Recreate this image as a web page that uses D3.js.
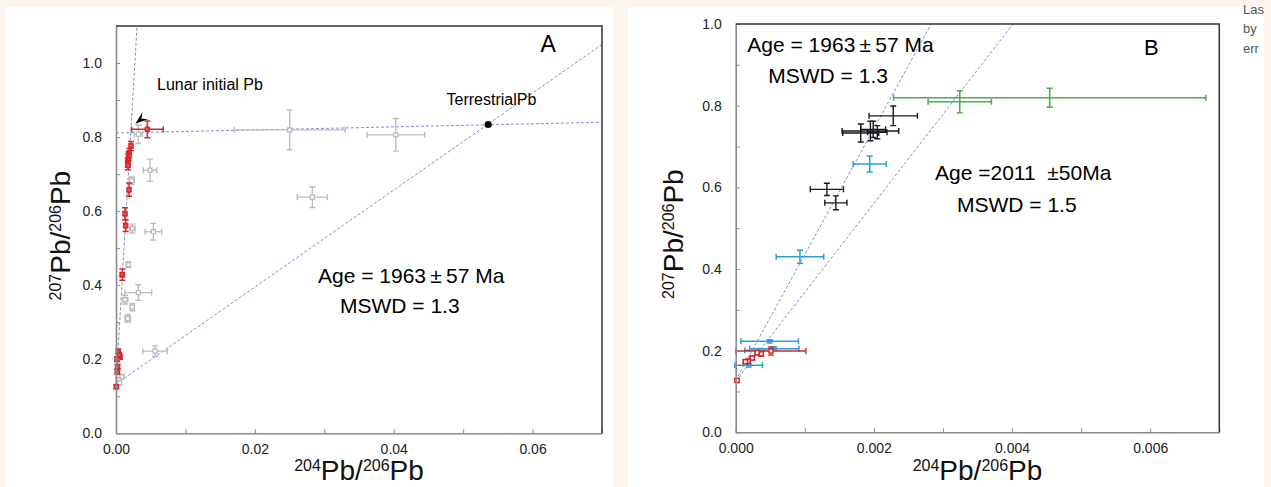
<!DOCTYPE html>
<html><head><meta charset="utf-8">
<script src="https://cdn.jsdelivr.net/npm/d3@7"></script>
<style>
html,body{margin:0;padding:0;background:#fcf5ed;}
svg{display:block;font-family:"Liberation Sans",Arial,Helvetica,sans-serif;}
</style></head><body>
<svg id="fig" width="1271" height="487"></svg>
<script>
// ---- Panel A: 207Pb/206Pb vs 204Pb/206Pb, [x, y, xErr, yErr] ----
const lunarA = [
  [0.00452, 0.821, 0.00228, 0.0225],
  [0.00216, 0.776, 0.00020, 0.012],
  [0.00190, 0.757, 0.00020, 0.012],
  [0.00182, 0.748, 0.00020, 0.012],
  [0.00177, 0.740, 0.00020, 0.014],
  [0.00168, 0.731, 0.00020, 0.012],
  [0.00172, 0.724, 0.00020, 0.012],
  [0.00188, 0.658, 0.00015, 0.018],
  [0.00130, 0.593, 0.00015, 0.016],
  [0.00139, 0.561, 0.00015, 0.016],
  [0.00091, 0.4285, 0.00030, 0.015],
  [0.00033, 0.221, 0.00015, 0.006],
  [0.00058, 0.206, 0.00015, 0.006],
  [0.00045, 0.212, 0.00015, 0.006],
  [0.00015, 0.200, 0.00012, 0.006],
  [0.00023, 0.180, 0.00012, 0.006],
  [0.00020, 0.166, 0.00012, 0.006],
  [0.00004, 0.126, 0.00010, 0.005]
];
const grayA = [
  [0.00322, 0.8076, 0.00060, 0.025],
  [0.00490, 0.7105, 0.00097, 0.030],
  [0.00226, 0.682, 0.00035, 0.010],
  [0.00235, 0.553, 0.00040, 0.012],
  [0.00538, 0.5445, 0.00120, 0.0225],
  [0.00177, 0.4555, 0.00030, 0.008],
  [0.00322, 0.380, 0.00192, 0.021],
  [0.00130, 0.361, 0.00040, 0.012],
  [0.00235, 0.341, 0.00030, 0.010],
  [0.00168, 0.310, 0.00040, 0.010],
  [0.00563, 0.2218, 0.00178, 0.0144],
  [0.00081, 0.1526, 0.00030, 0.006],
  [0.00033, 0.1437, 0.00030, 0.006],
  [0.00050, 0.136, 0.00025, 0.006],
  [0.02501, 0.8194, 0.00800, 0.054],
  [0.04030, 0.806, 0.00414, 0.044],
  [0.02828, 0.6378, 0.00216, 0.028]
];
const terrestrialPb = [0.0536, 0.834];
// reference lines, as [x1, y1, x2, y2]
const linesA = [
  [0, 0.130, 0.00303, 1.10],
  [0, 0.133, 0.070, 1.050],
  [0, 0.811, 0.070, 0.840]
];
const arrowA = [0.00279, 0.836, 0.00423, 0.858];
const xTicksA = [0, 0.01, 0.02, 0.03, 0.04, 0.05, 0.06, 0.07];
const yTicksA = [0, 0.1, 0.2, 0.3, 0.4, 0.5, 0.6, 0.7, 0.8, 0.9, 1.0];

// ---- Panel B ----
const blackB = [
  [0.00181, 0.733, 0.00026, 0.022],
  [0.00195, 0.738, 0.00041, 0.024],
  [0.00199, 0.742, 0.00018, 0.020],
  [0.00205, 0.735, 0.00014, 0.016],
  [0.00228, 0.775, 0.00035, 0.024],
  [0.00132, 0.595, 0.00024, 0.015],
  [0.00145, 0.562, 0.00016, 0.017]
];
const blueB = [
  [0.00194, 0.657, 0.00024, 0.0196],
  [0.00093, 0.430, 0.000344, 0.016],
  [0.000492, 0.2229, 0.000417, 0.004],
  [0.000559, 0.2048, 0.000357, 0.004],
  [0.00033, 0.201, 0.00020, 0.004],
  [0.000188, 0.164, 0.00020, 0.004]
];
const redB = [
  [0.00051, 0.199, 0.000506, 0.010],
  [0.00037, 0.192, 0.00003, 0.006],
  [0.00031, 0.195, 0.00003, 0.005],
  [0.00024, 0.182, 0.00003, 0.005],
  [0.00018, 0.174, 0.00003, 0.005],
  [0.00014, 0.173, 0.00003, 0.004],
  [0.00002, 0.127, 0.00002, 0.004]
];
const greenB = [
  [0.003243, 0.8097, 0.000458, 0.027],
  [0.004545, 0.8195, 0.00226, 0.023]
];
const linesB = [
  [0, 0.127, 0.00283, 1.0],
  [0, 0.125, 0.004015, 1.0]
];
const xTicksB = [0, 0.001, 0.002, 0.003, 0.004, 0.005, 0.006, 0.007];
const yTicksB = [0, 0.1, 0.2, 0.3, 0.4, 0.5, 0.6, 0.7, 0.8, 0.9, 1.0];

const svg = d3.select("#fig");
const cream = "#fcf5ed";
svg.append("rect").attr("width", 1271).attr("height", 487).attr("fill", cream);
svg.append("rect").attr("x", 5).attr("y", 7).attr("width", 608).attr("height", 480).attr("fill", "#fff");
svg.append("rect").attr("x", 628).attr("y", 7).attr("width", 636).attr("height", 480).attr("fill", "#fff");

// side-note text at the right edge
const side = svg.append("g").attr("fill", "#555").attr("font-size", 13);
[["Las", 14], ["by", 33], ["err", 52.5]].forEach(([t, y]) =>
  side.append("text").attr("x", 1243).attr("y", y).text(t));

function panel(opt) {
  const x = d3.scaleLinear().domain(opt.xDomain).range([opt.left, opt.right]);
  const y = d3.scaleLinear().domain(opt.yDomain).range([opt.bottom, opt.top]);
  const g = svg.append("g");

  // dashed reference lines
  g.append("g").selectAll("line").data(opt.lines).join("line")
    .attr("x1", d => x(d[0])).attr("y1", d => y(d[1]))
    .attr("x2", d => x(d[2])).attr("y2", d => y(d[3]))
    .attr("stroke", "#6f7fd6").attr("stroke-width", 0.9)
    .attr("stroke-dasharray", "3,2");

  // error-bar series
  opt.series.forEach(s => {
    const sg = g.append("g").attr("stroke", s.color).attr("stroke-width", s.w || 1.4).attr("fill", "none");
    s.data.forEach(d => {
      const cx = x(d[0]), cy = y(d[1]);
      const x0 = x(d[0] - d[2]), x1 = x(d[0] + d[2]);
      const y0 = y(d[1] - d[3]), y1 = y(d[1] + d[3]);
      const c = 3;
      sg.append("path").attr("d",
        `M${x0},${cy}H${x1}M${x0},${cy - c}V${cy + c}M${x1},${cy - c}V${cy + c}` +
        `M${cx},${y0}V${y1}M${cx - c},${y0}H${cx + c}M${cx - c},${y1}H${cx + c}`);
      if (s.marker) sg.append("rect").attr("x", cx - 2).attr("y", cy - 2)
        .attr("width", 4).attr("height", 4).attr("fill", s.markerFill || "#fff");
    });
  });

  // axes with inward ticks
  const xa = d3.axisBottom(x).tickValues(opt.xTicks).tickSizeInner(-4).tickSizeOuter(0)
    .tickPadding(11).tickFormat((d, i) => i % 2 ? "" : d3.format(opt.xFmt)(d));
  const ya = d3.axisLeft(y).tickValues(opt.yTicks).tickSizeInner(-4).tickSizeOuter(0)
    .tickPadding(14).tickFormat((d, i) => i % 2 ? "" : d3.format(".1f")(d));
  const gx = g.append("g").attr("transform", `translate(0,${opt.bottom})`).call(xa);
  const gy = g.append("g").attr("transform", `translate(${opt.left},0)`).call(ya);
  [gx, gy].forEach(a => {
    a.select(".domain").attr("stroke", "#8a8a8a").attr("stroke-width", 1.6);
    a.selectAll(".tick line").attr("stroke", "#8a8a8a").attr("stroke-width", 1);
    a.selectAll("text").attr("font-size", 14).attr("fill", "#222")
      .attr("font-family", "Liberation Sans, Arial, sans-serif");
  });
  gx.selectAll("text").attr("dy", "0.71em");
  // frame top and right
  g.append("path").attr("d", `M${opt.left},${opt.top}H${opt.right}V${opt.bottom}`)
    .attr("fill", "none").attr("stroke", "#333").attr("stroke-width", 1.5);

  // axis titles: superscript mass numbers with Pb
  const big = 28, sup = 16;
  function title(t, massA) {
    t.append("tspan").attr("font-size", sup).attr("dy", -9).text(massA);
    t.append("tspan").attr("font-size", big).attr("dy", 9).text("Pb/");
    t.append("tspan").attr("font-size", sup).attr("dy", -9).text("206");
    t.append("tspan").attr("font-size", big).attr("dy", 9).text("Pb");
  }
  const cxp = (opt.left + opt.right) / 2;
  const tx = g.append("text").attr("x", cxp).attr("y", opt.xTitleY)
    .attr("text-anchor", "middle").attr("fill", "#111");
  title(tx, "204");
  const ty = g.append("text").attr("text-anchor", "middle").attr("fill", "#111")
    .attr("transform", `translate(${opt.yTitleX},${(opt.top + opt.bottom) / 2 + 6}) rotate(-90)`);
  title(ty, "207");
  return { x, y, g };
}

const A = panel({
  left: 116, right: 602, top: 26, bottom: 433.3,
  xDomain: [0, 0.07], yDomain: [0, 1.1],
  xTicks: xTicksA, yTicks: yTicksA, xFmt: ".2f",
  lines: linesA,
  series: [
    { data: grayA, color: "#bdbdbd", marker: true, w: 1.4 },
    { data: lunarA, color: "#d8262b", marker: true, markerFill: "#e05a5e", w: 1.5 }
  ],
  xTitleY: 480, yTitleX: 70
});
const B = panel({
  left: 735.7, right: 1219.3, top: 24, bottom: 432.3,
  xDomain: [0, 0.007], yDomain: [0, 1.0],
  xTicks: xTicksB, yTicks: yTicksB, xFmt: ".3f",
  lines: linesB,
  series: [
    { data: blackB, color: "#1a1a1a", marker: false, w: 1.4 },
    { data: blueB, color: "#2b9fd6", marker: false, w: 1.5 },
    { data: greenB, color: "#4cb04a", marker: false, w: 1.6 },
    { data: redB, color: "#d8262b", marker: true, w: 1.4 }
  ],
  xTitleY: 480, yTitleX: 683
});

// Panel A annotations
A.g.append("circle").attr("cx", A.x(terrestrialPb[0])).attr("cy", A.y(terrestrialPb[1]))
  .attr("r", 3.6).attr("fill", "#000");
{
  const tx = A.x(arrowA[0]), ty = A.y(arrowA[1]);
  const ex = A.x(arrowA[2]), ey = A.y(arrowA[3]);
  const ang = Math.atan2(ey - ty, ex - tx);
  const L = Math.hypot(ex - tx, ey - ty);
  const pts = [[0, 0], [L, -4.5], [L * 0.6, 0], [L, 4.5]].map(([u, v]) =>
    [tx + u * Math.cos(ang) - v * Math.sin(ang), ty + u * Math.sin(ang) + v * Math.cos(ang)]);
  A.g.append("path").attr("d", "M" + pts.join("L") + "Z").attr("fill", "#000");
}
const ann = (g, x, y, size, t) => g.append("text").attr("x", x).attr("y", y)
  .attr("font-size", size).attr("fill", "#000").style("white-space", "pre").text(t);
const ageText = "Age = 1963\u2009±\u200957 Ma";
ann(A.g, 157, 89.5, 16, "Lunar initial Pb");
ann(A.g, 446.5, 105, 16, "TerrestrialPb");
ann(A.g, 540.5, 51.7, 23, "A");
ann(A.g, 318, 282.7, 21, ageText);
ann(A.g, 340, 313.3, 21, "MSWD = 1.3");

// Panel B annotations
ann(B.g, 747.3, 51.7, 21, ageText);
ann(B.g, 768.3, 82.7, 21, "MSWD = 1.3");
ann(B.g, 1144, 55, 22, "B");
ann(B.g, 935, 180, 21, "Age =2011  ±50Ma");
ann(B.g, 957, 211.7, 21, "MSWD = 1.5");
</script>
</body></html>
